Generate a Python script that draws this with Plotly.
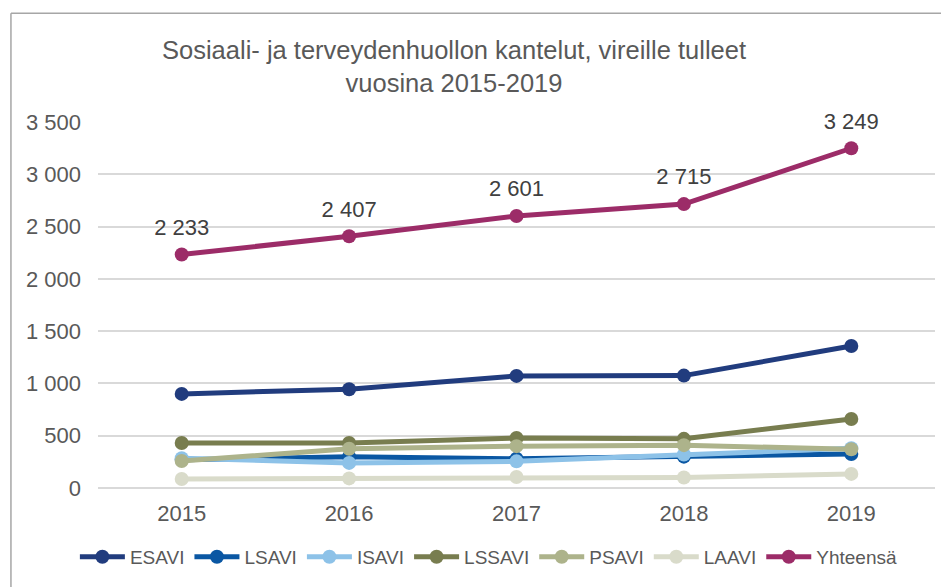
import plotly.graph_objects as go

years = ["2015", "2016", "2017", "2018", "2019"]

esavi = [900, 945, 1072, 1075, 1358]
lsavi = [270, 300, 280, 300, 325]
isavi = [285, 240, 255, 320, 380]
lssavi = [430, 430, 478, 470, 660]
psavi = [258, 375, 400, 410, 370]
laavi = [86, 92, 105, 100, 135]
yhteensa = [2233, 2407, 2601, 2715, 3249]

series = [
    ("ESAVI", esavi, "#213C7E"),
    ("LSAVI", lsavi, "#0A57A3"),
    ("ISAVI", isavi, "#8DC2E8"),
    ("LSSAVI", lssavi, "#787D4F"),
    ("PSAVI", psavi, "#ADB38B"),
    ("LAAVI", laavi, "#D9DBCA"),
    ("Yhteensä", yhteensa, "#9C2C68"),
]

FONT = "Liberation Sans, Arial, sans-serif"
# selaimen body-marginaali (8 px) siirtää kuvaa, joten kuva on sen verran pienempi
W, H = 941, 579

fig = go.Figure()
for name, values, color in series:
    fig.add_trace(go.Scatter(
        x=years, y=values, name=name, mode="lines+markers",
        line=dict(color=color, width=5),
        marker=dict(color=color, size=14),
    ))

# arvot vain Yhteensä-sarjalle (näkymätön iso merkki nostaa tekstiä)
fig.add_trace(go.Scatter(
    x=years, y=yhteensa, mode="markers+text", showlegend=False, hoverinfo="skip",
    marker=dict(size=21, opacity=0), cliponaxis=False,
    text=[f"{v:,}".replace(",", " ") for v in yhteensa],
    textposition="top center",
    textfont=dict(family=FONT, size=22, color="#404040"),
))

# kaavion reunaviiva (vasen ja yläreuna)
fig.add_shape(type="line", xref="paper", yref="paper",
              x0=-0.104, y0=-0.4, x1=-0.104, y1=1.297,
              line=dict(color="#A6A6A6", width=1.5))
fig.add_shape(type="line", xref="paper", yref="paper",
              x0=-0.104, y0=1.297, x1=1.2, y1=1.297,
              line=dict(color="#A6A6A6", width=1.5))

fig.update_layout(
    width=W, height=H,
    margin=dict(l=90, r=14, t=114, b=98),
    paper_bgcolor="white", plot_bgcolor="white",
    separators=", ",
    font=dict(family=FONT, size=22, color="#595959"),
    title=dict(
        text="Sosiaali- ja terveydenhuollon kantelut, vireille tulleet<br>vuosina 2015-2019",
        x=446 / W, xanchor="center", y=1 - 51 / H, yanchor="middle",
        font=dict(family=FONT, size=25.5, color="#595959"),
    ),
    xaxis=dict(
        type="category", range=[-0.5, 4.5], showgrid=False, showline=False,
        ticks="", ticklabelstandoff=10, tickfont=dict(size=22, color="#595959"),
    ),
    yaxis=dict(
        range=[0, 3500], dtick=500, tickformat=",d",
        gridcolor="#D9D9D9", gridwidth=1.5, zeroline=True,
        zerolinecolor="#D9D9D9", zerolinewidth=1.5, showline=False,
        ticklabelstandoff=16, tickfont=dict(size=22, color="#595959"),
    ),
    legend=dict(
        orientation="h", x=0.467, xanchor="center", y=-0.185, yanchor="middle",
        font=dict(family=FONT, size=19, color="#595959"),
        itemwidth=45, tracegroupgap=0,
    ),
)

fig.write_html("out.html")
